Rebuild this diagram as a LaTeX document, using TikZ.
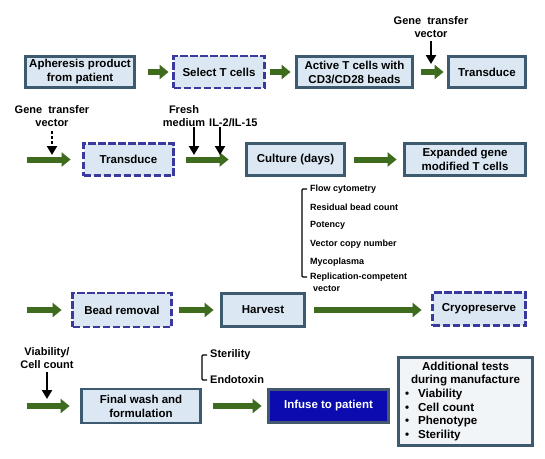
\documentclass[tikz,border=0pt]{standalone}
\usepackage{fontspec}
\setmainfont{Liberation Sans}
\usetikzlibrary{arrows.meta}
\definecolor{boxfill}{HTML}{DBE8F3}
\definecolor{boxline}{HTML}{3E5A6E}
\definecolor{dashline}{HTML}{3A3A9E}
\definecolor{flowgreen}{HTML}{3F6B1F}
\definecolor{infusefill}{HTML}{0B0BB0}
\definecolor{infuseline}{HTML}{44586E}
\definecolor{addfill}{HTML}{F2F5F8}
\newcommand{\bxfont}{\bfseries\fontsize{11.5}{14}\selectfont}
\newcommand{\lsfont}{\bfseries\fontsize{9}{11}\selectfont}
\newcommand{\lbfont}{\bfseries\fontsize{11}{13.5}\selectfont}
\newcommand{\adfont}{\bfseries\fontsize{11.6}{13.6}\selectfont}
\begin{document}
\begin{tikzpicture}[x=1pt,y=-1pt,
  box/.style={line width=2.8pt, fill=boxfill, align=center, inner sep=0pt, font=\bxfont},
  solidbox/.style={box, draw=boxline},
  dashbox/.style={box, draw=dashline, dash pattern=on 7.5pt off 2.5pt},
  flow/.style={draw=flowgreen, line width=6pt, -{Triangle[length=9pt,width=14pt]}},
  feed/.style={draw=black, line width=2.8pt, -{Triangle[length=9pt,width=10pt]}},
  dfeed/.style={feed, dash pattern=on 3pt off 2pt},
  lbl/.style={align=center, inner sep=0pt, font=\lbfont},
  item/.style={anchor=west, inner sep=0pt, font=\lsfont},
  brk/.style={draw=black, line width=1.1pt, rounded corners=1pt}]
\useasboundingbox[fill=white] (0,0) rectangle (545,458);

% Row 1
\node[solidbox, minimum width=109pt, minimum height=31pt] (aph) at (80,72) {Apheresis product\\from patient};
\node[dashbox, minimum width=91pt, minimum height=32pt] (sel) at (219,72) {Select T cells};
\node[solidbox, minimum width=116pt, minimum height=31pt] (act) at (354.5,72) {Active T cells with\\CD3/CD28 beads};
\node[solidbox, minimum width=77pt, minimum height=31pt] (tr1) at (487,72) {Transduce};
\draw[flow, shorten <=12.5pt, shorten >=3.5pt] (aph.east) -- (sel.west);
\draw[flow, shorten <=4.5pt, shorten >=4.5pt] (sel.east) -- (act.west);
\draw[flow, shorten <=7.5pt, shorten >=3.5pt] (act.east) -- (tr1.west);
\node[lbl] (gtv1) at (431,27) {Gene\ \ transfer\\vector};
\coordinate (s1) at (431,41);
\coordinate (e1) at (431,64);
\draw[feed] (s1) -- (e1);

% Row 2
\node[dashbox, minimum width=90pt, minimum height=32pt] (tr2) at (128.5,159.5) {Transduce};
\node[solidbox, minimum width=98pt, minimum height=32pt] (cul) at (295.5,159.5) {Culture (days)};
\node[solidbox, minimum width=121pt, minimum height=32pt] (exp) at (465,159.5) {Expanded gene\\modified T cells};
\coordinate (r2) at (27,159.5);
\draw[flow, shorten >=11.5pt] (r2) -- (tr2.west);
\draw[flow, shorten <=11.5pt, shorten >=16.5pt] (tr2.east) -- (cul.west);
\draw[flow, shorten <=8.5pt, shorten >=6.5pt] (cul.east) -- (exp.west);
\node[lbl] (gtv2) at (52,116) {Gene\ \ transfer\\vector};
\coordinate (s2) at (52,131);
\coordinate (e2) at (52,155);
\draw[dfeed] (s2) -- (e2);
\node[lbl] (fm) at (184,116) {Fresh\\medium};
\node[lbl, anchor=west] (il) at (209,123) {IL-2/IL-15};
\coordinate (s3) at (194,127);
\coordinate (e3) at (194,155);
\draw[feed] (s3) -- (e3);
\coordinate (s4) at (220,127);
\coordinate (e4) at (220,155);
\draw[feed] (s4) -- (e4);

% QC list
\node[item] (flw) at (310,189) {Flow cytometry};
\node[item] (res) at (310,207) {Residual bead count};
\node[item] (pot) at (310,225) {Potency};
\node[item] (vcn) at (310,244) {Vector copy number};
\node[item] (myc) at (310,262) {Mycoplasma};
\node[item] (rep) at (310,277) {Replication-competent};
\node[item] (vec) at (313,289) {vector};
\draw[brk] ([xshift=-3pt]flw.west) -- ++(-5,0) |- ([xshift=-3pt]rep.west);

% Row 3
\node[dashbox, minimum width=99pt, minimum height=34pt] (bead) at (122,310) {Bead removal};
\node[solidbox, minimum width=83pt, minimum height=33pt] (harv) at (263,310) {Harvest};
\node[dashbox, minimum width=93pt, minimum height=33pt] (cryo) at (479,309) {Cryopreserve};
\coordinate (r3) at (27,310);
\draw[flow, shorten >=9.5pt] (r3) -- (bead.west);
\draw[flow, shorten <=6.5pt, shorten >=6.5pt] (bead.east) -- (harv.west);
\draw[flow, shorten <=8.5pt, shorten >=9.5pt] (harv.east) -- (harv.east -| cryo.west);

% Row 4
\node[solidbox, minimum width=119pt, minimum height=34pt] (fin) at (141,406) {Final wash and\\formulation};
\node[box, draw=infuseline, fill=infusefill, text=white, minimum width=120pt, minimum height=33pt] (inf) at (328.5,406) {Infuse to patient};
\coordinate (r4) at (27,406);
\draw[flow, shorten >=10.5pt] (r4) -- (fin.west);
\draw[flow, shorten <=11.5pt, shorten >=5.5pt] (fin.east) -- (inf.west);
\node[lbl] (via) at (47,358) {Viability/\\Cell count};
\coordinate (s5) at (47,372);
\coordinate (e5) at (47,399);
\draw[feed] (s5) -- (e5);
\node[anchor=west, inner sep=0pt, font=\lbfont] (ster) at (210,355) {Sterility};
\node[anchor=west, inner sep=0pt, font=\lbfont] (endo) at (210,380) {Endotoxin};
\draw[brk] ([xshift=-3pt]ster.west) -- ++(-5,0) |- ([xshift=-3pt]endo.west);

\node[box, draw=boxline, fill=addfill, minimum width=134pt, minimum height=88pt, font=\adfont] (add) at (465.5,401.5)
 {\begin{tabular}{@{}l@{\hspace{9pt}}l@{}}
  \multicolumn{2}{c}{Additional tests}\\
  \multicolumn{2}{c}{during manufacture}\\
  \textbullet & Viability\\
  \textbullet & Cell count\\
  \textbullet & Phenotype\\
  \textbullet & Sterility
 \end{tabular}};
\end{tikzpicture}
\end{document}
